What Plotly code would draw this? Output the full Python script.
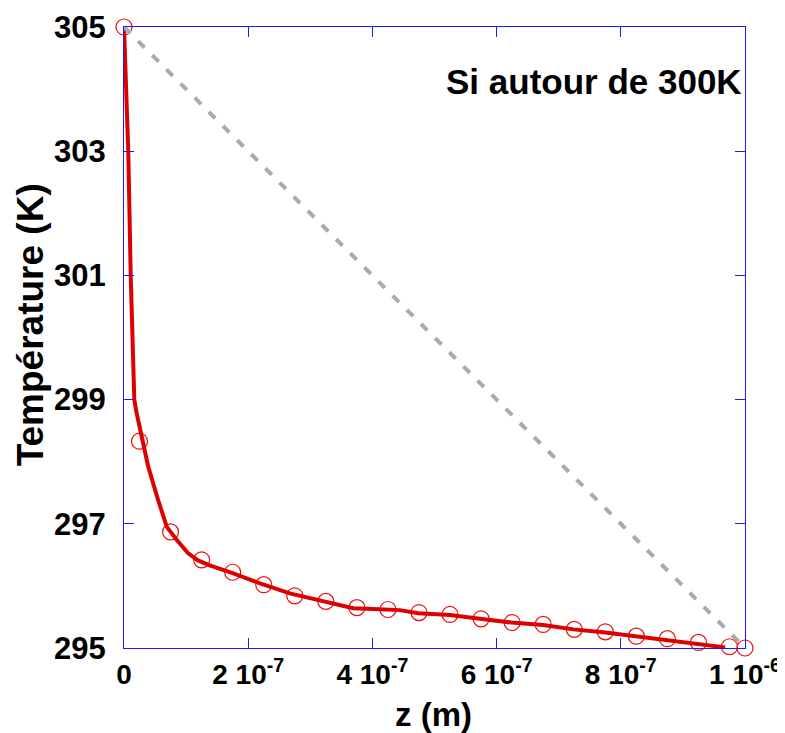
import plotly.graph_objects as go

# Measured points (open circles)
z_pts = [0, 2.5e-8, 7.5e-8, 1.25e-7, 1.75e-7, 2.25e-7, 2.75e-7, 3.25e-7, 3.75e-7,
         4.25e-7, 4.75e-7, 5.25e-7, 5.75e-7, 6.25e-7, 6.75e-7, 7.25e-7, 7.75e-7,
         8.25e-7, 8.75e-7, 9.25e-7, 9.75e-7, 1e-6]
T_pts = [305.0, 298.33, 296.87, 296.42, 296.22, 296.02, 295.84, 295.75, 295.65,
         295.62, 295.57, 295.54, 295.47, 295.41, 295.38, 295.30, 295.26,
         295.19, 295.15, 295.09, 295.02, 295.0]

# Model curve (red line)
z_line = [0, 0.69e-8, 1.08e-8, 1.66e-8, 2.0e-8, 3.9e-8, 5.5e-8, 6.9e-8, 8.5e-8,
          1.03e-7, 1.19e-7, 1.38e-7, 1.76e-7, 2.19e-7, 2.67e-7, 3.16e-7, 3.69e-7,
          4.01e-7, 4.44e-7, 4.74e-7, 5.25e-7, 5.73e-7, 6.24e-7, 6.75e-7, 7.24e-7,
          7.75e-7, 8.23e-7, 8.74e-7, 9.22e-7, 9.68e-7]
T_line = [305.0, 303.0, 301.0, 299.0, 298.80, 297.92, 297.38, 296.95, 296.74,
          296.53, 296.41, 296.33, 296.20, 296.04, 295.88, 295.77, 295.64,
          295.63, 295.61, 295.56, 295.53, 295.47, 295.41, 295.37, 295.30,
          295.25, 295.19, 295.13, 295.08, 295.01]

# Linear reference (grey dashed)
z_lin = [0, 1e-6]
T_lin = [305, 295]

x_tickvals = [0, 2e-7, 4e-7, 6e-7, 8e-7, 1e-6]
x_ticktext = ["0", "2 10<sup>-7</sup>", "4 10<sup>-7</sup>", "6 10<sup>-7</sup>",
              "8 10<sup>-7</sup>", "1 10<sup>-6</sup>"]
y_tickvals = [295, 297, 299, 301, 303, 305]

FONT = "Liberation Sans, Arial, Helvetica, sans-serif"
AX = "#1a1aff"

fig = go.Figure()
fig.add_trace(go.Scatter(x=z_pts, y=T_pts, mode="markers", cliponaxis=False,
                         marker=dict(symbol="circle-open", size=16,
                                     color="#e81010", line=dict(width=1.2, color="#e81010")),
                         showlegend=False))
fig.add_trace(go.Scatter(x=z_line, y=T_line, mode="lines", cliponaxis=False,
                         line=dict(color="#dd0000", width=4), showlegend=False))
fig.add_trace(go.Scatter(x=z_lin, y=T_lin, mode="lines", cliponaxis=False,
                         line=dict(color="#aaaaaa", width=4, dash="9px,11px"),
                         showlegend=False))

fig.add_annotation(text="Si autour de 300K", xref="paper", yref="paper",
                   x=0.998, y=0.913, xanchor="right", yanchor="middle",
                   showarrow=False,
                   font=dict(family=FONT, size=35, color="black", weight="bold"))
# axis titles
fig.add_annotation(text="z (m)", xref="paper", yref="paper",
                   x=0.498, y=-0.107, xanchor="center", yanchor="middle",
                   showarrow=False,
                   font=dict(family=FONT, size=33, color="black", weight="bold"))
fig.add_annotation(text="Température (K)", xref="paper", yref="paper",
                   x=-0.151, y=0.52, xanchor="center", yanchor="middle",
                   textangle=-90, showarrow=False,
                   font=dict(family=FONT, size=37, color="black", weight="bold"))

fig.update_xaxes(range=[0, 1e-6], tickvals=x_tickvals, ticktext=x_ticktext,
                 showgrid=False, zeroline=False, showline=True, linecolor=AX,
                 linewidth=1, mirror="ticks", ticks="inside", ticklen=10,
                 tickcolor=AX, tickwidth=1, ticklabelstandoff=1, automargin=False,
                 tickfont=dict(family=FONT, size=28, color="black", weight="bold"))
fig.update_yaxes(range=[295, 305], tickvals=y_tickvals,
                 showgrid=False, zeroline=False, showline=True, linecolor=AX,
                 linewidth=1, mirror="ticks", ticks="inside", ticklen=10,
                 tickcolor=AX, tickwidth=1, ticklabelstandoff=11, automargin=False,
                 tickfont=dict(family=FONT, size=31, color="black", weight="bold"))

fig.update_layout(width=785, height=733, plot_bgcolor="white", paper_bgcolor="white",
                  margin=dict(l=116, r=48, t=19, b=93), showlegend=False)

fig.write_html("out.html")
